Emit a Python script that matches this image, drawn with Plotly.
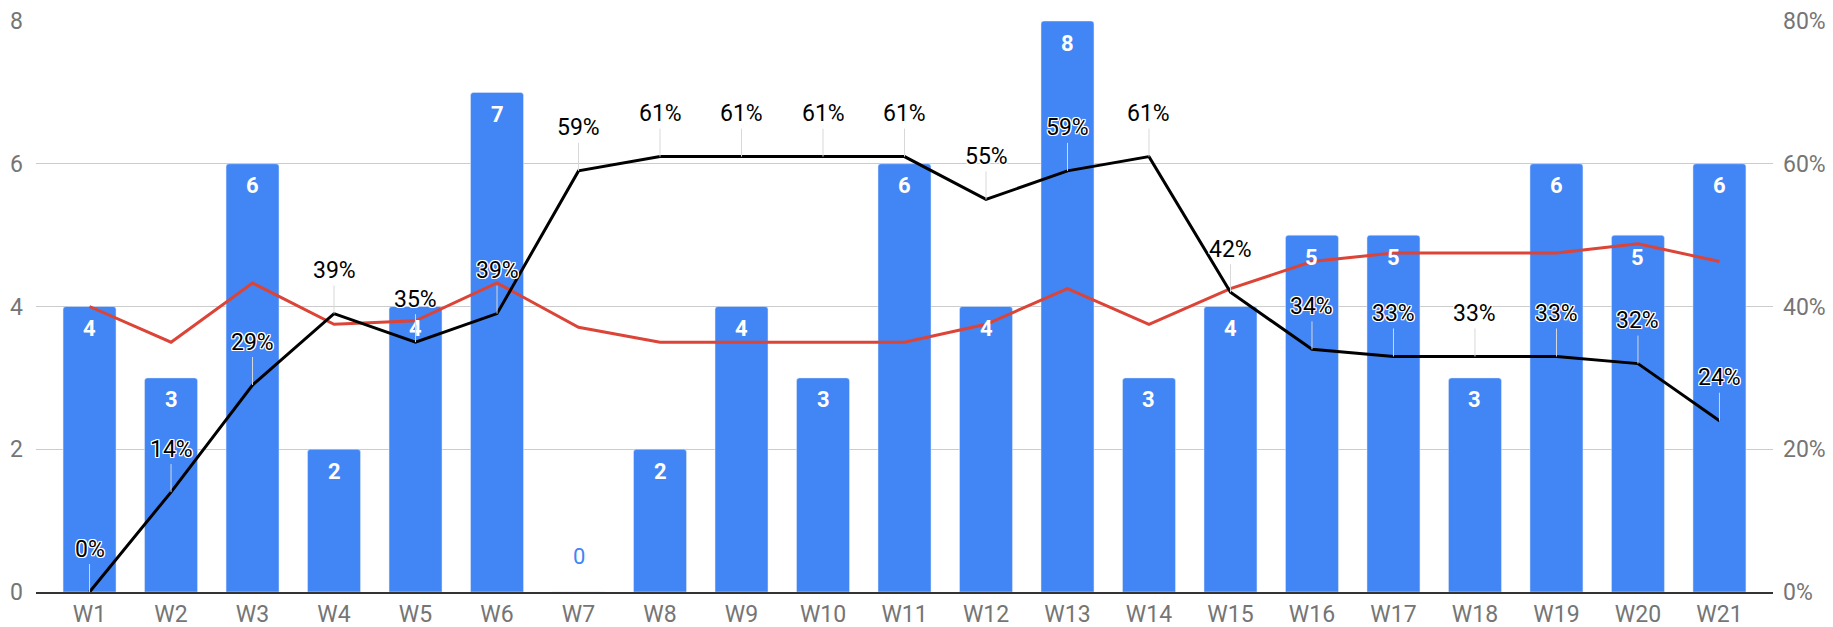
import plotly.graph_objects as go

weeks = [f"W{i}" for i in range(1, 22)]
counts = [4, 3, 6, 2, 4, 7, 0, 2, 4, 3, 6, 4, 8, 3, 4, 5, 5, 3, 6, 5, 6]
avg_line = [4.0, 3.5, 4.33, 3.75, 3.8, 4.33, 3.71, 3.5, 3.5, 3.5, 3.5, 3.75,
            4.25, 3.75, 4.25, 4.63, 4.75, 4.75, 4.75, 4.88, 4.63]
pct_line = [0, 14, 29, 39, 35, 39, 59, 61, 61, 61, 61, 55, 59, 61, 42, 34,
            33, 33, 33, 32, 24]

BLUE = "#4285F4"
RED = "#DB4437"
FONT = "Roboto"
halo = ("white 1px 1px 0, white -1px -1px 0, white 1px -1px 0, white -1px 1px 0, "
        "white 0 1px 0, white 0 -1px 0, white 1px 0 0, white -1px 0 0")

fig = go.Figure()

fig.add_trace(go.Bar(
    x=weeks, y=counts, marker=dict(color=BLUE, cornerradius=3),
    showlegend=False, hoverinfo="x+y",
))

fig.add_trace(go.Scatter(
    x=weeks, y=avg_line, mode="lines", line=dict(color=RED, width=3),
    showlegend=False,
))

fig.add_trace(go.Scatter(
    x=weeks, y=pct_line, mode="lines", line=dict(color="black", width=3),
    yaxis="y2", showlegend=False,
))

annotations = []
# bar value labels
for w, c in zip(weeks, counts):
    if c > 0:
        annotations.append(dict(
            x=w, y=c, xref="x", yref="y", text=str(c), showarrow=False,
            yshift=-22, font=dict(family=FONT, size=22, color="white", weight="bold"),
        ))
    else:
        annotations.append(dict(
            x=w, y=c, xref="x", yref="y", text=str(c), showarrow=False,
            yshift=36, font=dict(family=FONT, size=22, color=BLUE),
        ))

# percent labels with grey leader lines
for w, p in zip(weeks, pct_line):
    annotations.append(dict(
        x=w, y=p, xref="x", yref="y2", text=f"{p}%",
        showarrow=True, arrowhead=0, arrowwidth=1, arrowcolor="#d8d8d8",
        ax=0, ay=-43, standoff=0,
        font=dict(family=FONT, size=23, color="black", shadow=halo),
    ))

fig.update_layout(
    width=1833, height=627,
    margin=dict(l=36, r=60, t=21, b=35),
    plot_bgcolor="white", paper_bgcolor="white",
    bargap=0.35,
    font=dict(family=FONT, size=23, color="#757575"),
    xaxis=dict(range=[-0.657, 20.657], showgrid=False, showline=True,
               linecolor="#333333", linewidth=2, ticks="", automargin=False,
               tickfont=dict(size=23, color="#757575")),
    yaxis=dict(range=[0, 8], dtick=2, showgrid=True, gridcolor="#cccccc",
               zeroline=False, ticks="", ticklabelstandoff=12, automargin=False,
               tickfont=dict(size=23, color="#757575")),
    yaxis2=dict(range=[0, 80], dtick=20, overlaying="y", side="right",
                showgrid=False, zeroline=False, ticksuffix="%",
                ticklabelstandoff=9, automargin=False,
                tickfont=dict(size=23, color="#757575")),
    annotations=annotations,
)

# drop the default 8px page margin so the figure fills the window
fig.write_html("out.html", config={"displayModeBar": False},
               post_script="document.body.style.margin='0';document.body.style.overflow='hidden';")
